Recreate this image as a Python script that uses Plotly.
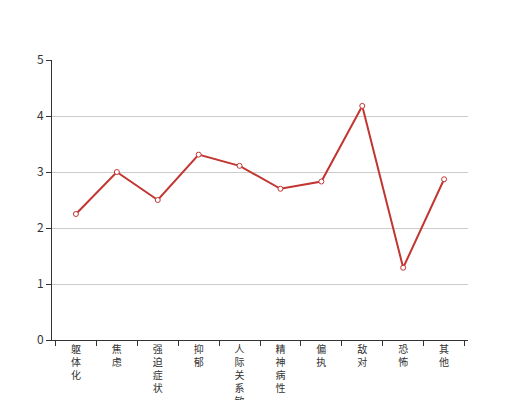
import plotly.graph_objects as go

categories = ["躯体化", "焦虑", "强迫症状", "抑郁", "人际关系敏感", "精神病性", "偏执", "敌对", "恐怖", "其他"]
scores = [2.25, 3.0, 2.5, 3.31, 3.11, 2.70, 2.83, 4.18, 1.29, 2.87]

# vertical labels: one character per line
tick_text = ["<br>".join(list(c)) for c in categories]

fig = go.Figure()
fig.add_trace(go.Scatter(
    x=categories,
    y=scores,
    mode="lines+markers",
    line=dict(color="#c23531", width=2),
    marker=dict(symbol="circle", size=5, color="white",
                line=dict(color="#c23531", width=1)),
    showlegend=False,
))

fig.update_layout(
    width=520,
    height=400,
    margin=dict(l=44, r=60, t=52, b=68),
    plot_bgcolor="white",
    paper_bgcolor="white",
    font=dict(family="Noto Sans CJK SC, sans-serif", size=12, color="#333"),
)

fig.update_xaxes(
    type="category",
    tickmode="array",
    tickvals=categories,
    ticktext=tick_text,
    tickangle=0,
    tickson="boundaries",
    ticks="outside",
    ticklen=5,
    tickcolor="#333",
    showline=True,
    linecolor="#333",
    linewidth=1,
    showgrid=False,
    automargin=False,
    tickfont=dict(size=10, color="#333"),
)

fig.update_yaxes(
    range=[0, 5],
    dtick=1,
    ticks="outside",
    ticklen=5,
    tickcolor="#333",
    showline=True,
    linecolor="#333",
    linewidth=1,
    showgrid=True,
    gridcolor="#ccc",
    zeroline=False,
    automargin=False,
    tickfont=dict(size=12, color="#333"),
)

fig.write_html("out.html")
